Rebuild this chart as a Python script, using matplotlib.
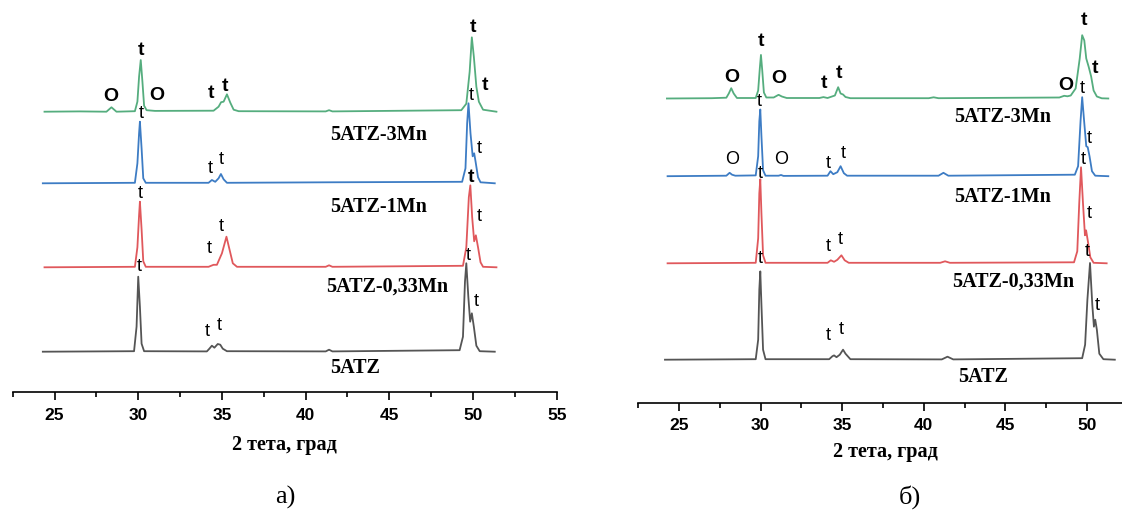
import matplotlib
matplotlib.use("Agg")
import matplotlib.pyplot as plt
from matplotlib.ticker import MultipleLocator

# --- панель а) : 2 тета (град) и интенсивность над базовой линией ---
a_3mn_x = [24.4, 26.5, 28.1, 28.4, 28.7, 29.8, 29.95, 30.05, 30.15, 30.25, 30.35, 30.5, 31.0,
           34.5, 34.8, 34.95, 35.1, 35.3, 35.5, 35.7, 36.0, 41.2, 41.4, 41.6,
           49.3, 49.6, 49.8, 49.93, 50.05, 50.2, 50.35, 50.6, 51.4]
a_3mn_y = [0, 0.3, 0, 4.4, 0, 0.5, 10, 35, 51.7, 30, 6, 1.5, 0.8,
           1, 5, 9.5, 10, 17.4, 9, 2, 0.5, 0.3, 1.5, 0.3,
           1.5, 8, 40, 74.4, 55, 25, 10, 2, 0]

a_1mn_x = [24.3, 29.8, 29.95, 30.05, 30.1, 30.2, 30.3, 30.45, 34.2, 34.4, 34.6, 34.8, 34.94,
           35.1, 35.3, 41.3, 49.35, 49.55, 49.65, 49.73, 49.85, 49.98, 50.07, 50.15, 50.3,
           50.45, 51.3]
a_1mn_y = [0, 0.5, 20, 50, 61.6, 35, 5, 0.5, 0.5, 3.3, 1.5, 5, 9.3,
           4, 0.5, 1, 1.5, 15, 60, 80, 50, 27, 30, 22, 6,
           1, 0]

a_033mn_x = [24.4, 29.8, 29.95, 30.05, 30.1, 30.2, 30.3, 30.45, 34.2, 34.5, 34.7, 35.0, 35.27,
             35.45, 35.65, 35.9, 41.2, 41.4, 41.6, 49.4, 49.6, 49.75, 49.84, 49.95, 50.07,
             50.17, 50.3, 50.45, 50.6, 51.4]
a_033mn_y = [0, 0.5, 20, 52, 65.6, 38, 6, 0.5, 0.5, 2.5, 2.5, 14, 30.6,
             18, 4, 0.5, 0.5, 2, 0.5, 1.5, 20, 70, 82, 50, 26,
             32, 20, 5, 0.5, 0]

a_5atz_x = [24.3, 29.75, 29.9, 30.0, 30.1, 30.2, 30.35, 34.1, 34.25, 34.4, 34.55, 34.75, 34.9,
            35.05, 35.3, 41.2, 41.4, 41.6, 49.2, 49.4, 49.52, 49.6, 49.72, 49.83, 49.93,
            50.05, 50.2, 50.4, 51.3]
a_5atz_y = [0, 0.5, 25, 75, 45, 8, 0.5, 0.3, 3, 6, 4, 7.7, 7,
            3, 0.5, 0.3, 2, 0.3, 1.5, 15, 70, 88.4, 55, 30, 38.4,
            25, 6, 0.5, 0]

# --- панель б) ---
b_3mn_x = [24.26, 27.0, 27.9, 28.05, 28.2, 28.35, 28.55, 29.7, 29.85, 29.95, 30.02, 30.1, 30.2,
           30.35, 30.8, 31.1, 31.3, 31.6, 33.6, 33.85, 34.1, 34.55, 34.75, 34.9, 35.05, 35.2,
           35.5, 40.3, 40.6, 40.9, 48.3, 48.6, 48.8, 49.0, 49.3, 49.55, 49.7, 49.83, 49.95,
           50.1, 50.25, 50.4, 50.6, 50.9, 51.3]
b_3mn_y = [0, 0.3, 0.8, 5, 10.3, 5, 0.5, 0.5, 8, 30, 43.6, 28, 6,
           1, 1, 3.7, 2, 0.5, 0.5, 1.4, 0.5, 3, 11.3, 5, 4, 1.5,
           0.3, 0.3, 1.2, 0.3, 1, 2.7, 2.2, 3, 10, 40, 63.3, 58, 40,
           31.6, 22, 8, 2, 0.2, 0]

b_1mn_x = [24.3, 27.9, 28.1, 28.25, 28.45, 29.7, 29.85, 29.92, 29.98, 30.05, 30.15, 30.3, 31.1,
           31.25, 31.4, 34.1, 34.28, 34.45, 34.7, 34.9, 35.1, 35.3, 40.9, 41.2, 41.5, 49.25,
           49.45, 49.6, 49.7, 49.82, 49.95, 50.04, 50.15, 50.3, 50.5, 51.3]
b_1mn_y = [0, 0.5, 3.4, 1.5, 0.5, 0.8, 20, 55, 66.7, 40, 6, 0.5, 0.5,
           1.2, 0.3, 0.5, 5, 2, 4, 10, 3, 0.5, 0.5, 3.4, 0.5, 1.5,
           10, 55, 79, 55, 30, 29, 20, 5, 0.5, 0]

b_033mn_x = [24.3, 29.7, 29.85, 29.92, 29.98, 30.05, 30.15, 30.3, 34.1, 34.3, 34.5, 34.7, 34.95,
             35.15, 35.4, 41.0, 41.3, 41.6, 49.2, 49.4, 49.52, 49.63, 49.75, 49.87, 49.94,
             50.05, 50.2, 50.4, 51.2]
b_033mn_y = [0, 0.5, 25, 70, 84, 50, 8, 0.5, 0.5, 3, 1.5, 3.5, 8,
             3, 0.5, 0.5, 2, 0.5, 1, 12, 60, 96, 60, 28, 33,
             22, 6, 0.5, 0]

b_5atz_x = [24.14, 29.7, 29.85, 29.92, 29.98, 30.05, 30.15, 30.3, 34.2, 34.4, 34.5, 34.65, 34.85,
            35.05, 35.2, 35.5, 41.1, 41.45, 41.8, 49.7, 49.88, 50.02, 50.18, 50.32, 50.42,
            50.5, 50.6, 50.75, 51.0, 51.7]
b_5atz_y = [0, 0.5, 20, 70, 88.3, 55, 10, 0.5, 0.5, 3.5, 4.3, 2.5, 5,
            10, 6, 0.5, 0.3, 3, 0.3, 1.5, 15, 60, 96.7, 55, 33,
            40, 30, 6, 0.5, 0]

samples = ["5ATZ-3Mn", "5ATZ-1Mn", "5ATZ-0,33Mn", "5ATZ"]
colors = ["#55ad7e", "#3d7cc4", "#e0585c", "#555555"]

# смещения кривых (вертикальный сдвиг) для каждой панели
a_offsets = [280.6, 209.0, 125.0, 40.6]
b_offsets = [304.2, 226.5, 139.4, 43.0]

# подписи образцов (x, y)
a_name_pos = [(44.36, 257.3), (44.36, 185.6), (44.89, 105.6), (42.95, 24.0)]
b_name_pos = [(44.85, 285.4), (44.85, 206.0), (45.5, 121.0), (43.63, 26.0)]

# метки фаз: (текст, x, y, жирный)
a_marks = [("O", 28.35, 295.6, True), ("t", 30.16, 342.3, True), ("O", 31.12, 297.3, True),
           ("t", 34.33, 299, True), ("t", 35.18, 306.3, True), ("t", 49.97, 365, True),
           ("t", 50.71, 307.3, True),
           ("t", 49.92, 297, False), ("t", 30.16, 279, False), ("t", 34.29, 224, False),
           ("t", 34.97, 232.3, False), ("t", 50.36, 244, False),
           ("t", 49.86, 215, True), ("t", 30.1, 199, False), ("t", 34.23, 144, False),
           ("t", 34.97, 165.6, False), ("t", 50.36, 175.6, False),
           ("t", 49.72, 137.3, False), ("t", 30.06, 125.6, False), ("t", 34.11, 60.6, False),
           ("t", 34.82, 66.3, False), ("t", 50.18, 90.6, False)]
b_marks = [("O", 28.21, 325.4, True), ("t", 30.01, 361, True), ("O", 31.10, 324.4, True),
           ("t", 33.86, 318.7, True), ("t", 34.78, 329.4, True), ("t", 49.83, 382, True),
           ("t", 50.47, 334.4, True), ("O", 48.68, 316.7, True),
           ("t", 49.72, 314.4, False), ("t", 29.92, 301, False), ("O", 28.28, 242.7, False),
           ("O", 31.23, 243.4, False), ("t", 34.12, 238.7, False), ("t", 35.06, 248.7, False),
           ("t", 50.16, 264.4, False),
           ("t", 49.77, 242.7, False), ("t", 29.96, 229.4, False), ("t", 34.12, 156, False),
           ("t", 34.89, 162.7, False), ("t", 50.16, 189.4, False),
           ("t", 49.99, 151, False), ("t", 29.96, 144.4, False), ("t", 34.17, 66.7, False),
           ("t", 34.95, 73.4, False), ("t", 50.64, 97.7, False)]

W, H = 1122, 513
fig = plt.figure(figsize=(W / 100, H / 100), dpi=100)

ax_a = fig.add_axes([12.7 / W, 1 - 392.3 / H, 544.0 / W, 392.3 / H])
ax_b = fig.add_axes([638.2 / W, 1 - 402.7 / H, 483.8 / W, 402.7 / H])

panels = [
    (ax_a, [(a_3mn_x, a_3mn_y), (a_1mn_x, a_1mn_y), (a_033mn_x, a_033mn_y), (a_5atz_x, a_5atz_y)],
     a_offsets, a_name_pos, a_marks, 392.3, 55.0),
    (ax_b, [(b_3mn_x, b_3mn_y), (b_1mn_x, b_1mn_y), (b_033mn_x, b_033mn_y), (b_5atz_x, b_5atz_y)],
     b_offsets, b_name_pos, b_marks, 402.7, 52.14),
]

for ax, curves, offs, names, marks, top, xmax in panels:
    for (x, y), off, c in zip(curves, offs, colors):
        ax.plot(x, [v + off for v in y], color=c, lw=1.3, solid_joinstyle="round")
    for name, (nx, ny) in zip(samples, names):
        ax.text(nx, ny, name, ha="center", va="center", fontsize=14.5,
                fontweight="bold", family="Liberation Serif")
    for s, mx, my, bold in marks:
        ax.text(mx, my, s, ha="center", va="center", family="Liberation Sans",
                fontsize=(14 if s == "O" else 14) if bold else 13,
                fontweight="bold" if bold else "normal")
    ax.set_xlim(22.5, xmax)
    ax.set_ylim(0, top)
    for sp in ["top", "right", "left"]:
        ax.spines[sp].set_visible(False)
    ax.spines["bottom"].set_linewidth(1.2)
    ax.set_yticks([])
    ax.xaxis.set_major_locator(MultipleLocator(5))
    ax.xaxis.set_minor_locator(MultipleLocator(2.5))
    ax.tick_params(axis="x", which="major", direction="out", length=6, width=1.2, pad=5)
    ax.tick_params(axis="x", which="minor", direction="out", length=3.5, width=1.2)
    for lab in ax.get_xticklabels():
        lab.set_fontfamily("Liberation Sans")
        lab.set_fontweight("bold")
        lab.set_fontsize(12.5)
    ax.patch.set_alpha(0)

fig.text(284 / W, 1 - 445 / H, "2 тета, град", ha="center", va="center",
         fontsize=14.5, fontweight="bold", family="Liberation Serif")
fig.text(885 / W, 1 - 451.7 / H, "2 тета, град", ha="center", va="center",
         fontsize=14.5, fontweight="bold", family="Liberation Serif")
fig.text(285.7 / W, 1 - 497 / H, "а)", ha="center", va="center",
         fontsize=19, family="Liberation Serif")
fig.text(910 / W, 1 - 497 / H, "б)", ha="center", va="center",
         fontsize=19, family="Liberation Serif")

fig.savefig("out.png", dpi=100)
